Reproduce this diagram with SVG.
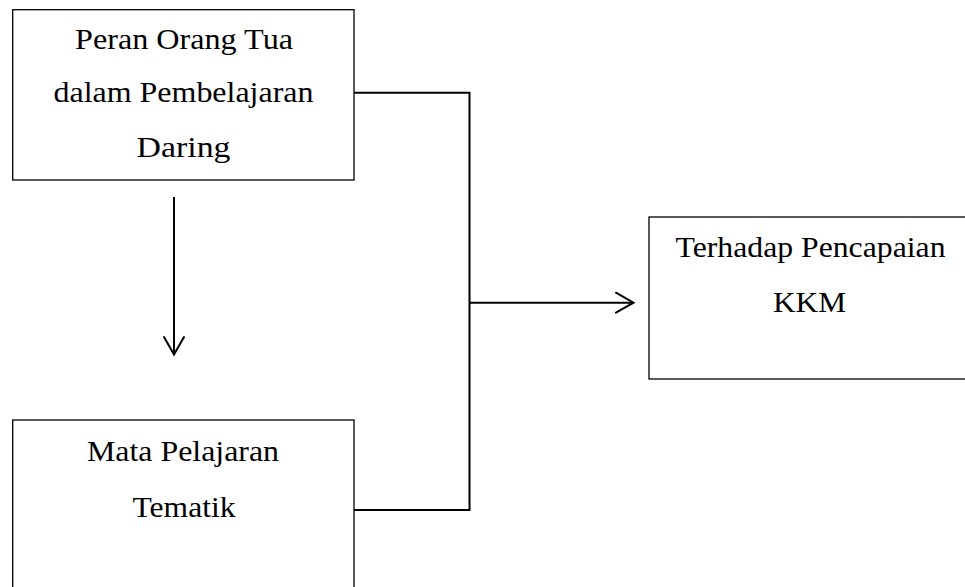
<svg xmlns="http://www.w3.org/2000/svg" width="965" height="587" viewBox="0 0 965 587">
<style>
.box{fill:#fff;stroke:#000;stroke-width:1.3}
.t{font-family:"Liberation Serif","Times New Roman",serif;font-size:30px;fill:#000;text-anchor:middle}
.c{fill:none;stroke:#000;stroke-width:2}
.ah{fill:none;stroke:#000;stroke-width:2;stroke-linecap:round;stroke-linejoin:miter}
</style>
<rect x="0" y="0" width="965" height="587" fill="#fff"/>
<g id="node-peran">
<rect class="box" x="12.7" y="9.7" width="341.3" height="170.3"/>
<text class="t" x="184" y="49" textLength="218" lengthAdjust="spacingAndGlyphs">Peran Orang Tua</text>
<text class="t" x="183.5" y="102" textLength="260" lengthAdjust="spacingAndGlyphs">dalam Pembelajaran</text>
<text class="t" x="183.5" y="157" textLength="94" lengthAdjust="spacingAndGlyphs">Daring</text>
</g>
<g id="node-mapel">
<rect class="box" x="12.7" y="420" width="341.3" height="180"/>
<text class="t" x="183" y="461" textLength="192" lengthAdjust="spacingAndGlyphs">Mata Pelajaran</text>
<text class="t" x="184" y="517" textLength="103" lengthAdjust="spacingAndGlyphs">Tematik</text>
</g>
<g id="node-kkm">
<rect class="box" x="649" y="217" width="330" height="162"/>
<text class="t" x="810.5" y="257" textLength="270" lengthAdjust="spacingAndGlyphs">Terhadap Pencapaian</text>
<text class="t" x="809.5" y="312" textLength="73" lengthAdjust="spacingAndGlyphs">KKM</text>
</g>
<g id="connectors">
<polyline class="c" points="354,92.7 469.5,92.7 469.5,510 354,510"/>
<line class="c" x1="469.5" y1="302.7" x2="633" y2="302.7"/>
<polyline class="ah" points="616,292.7 633.5,302.7 616,312.7"/>
<line class="c" x1="174" y1="197" x2="174" y2="354"/>
<polyline class="ah" points="164,337 174,354.5 184,337"/>
</g>
</svg>
